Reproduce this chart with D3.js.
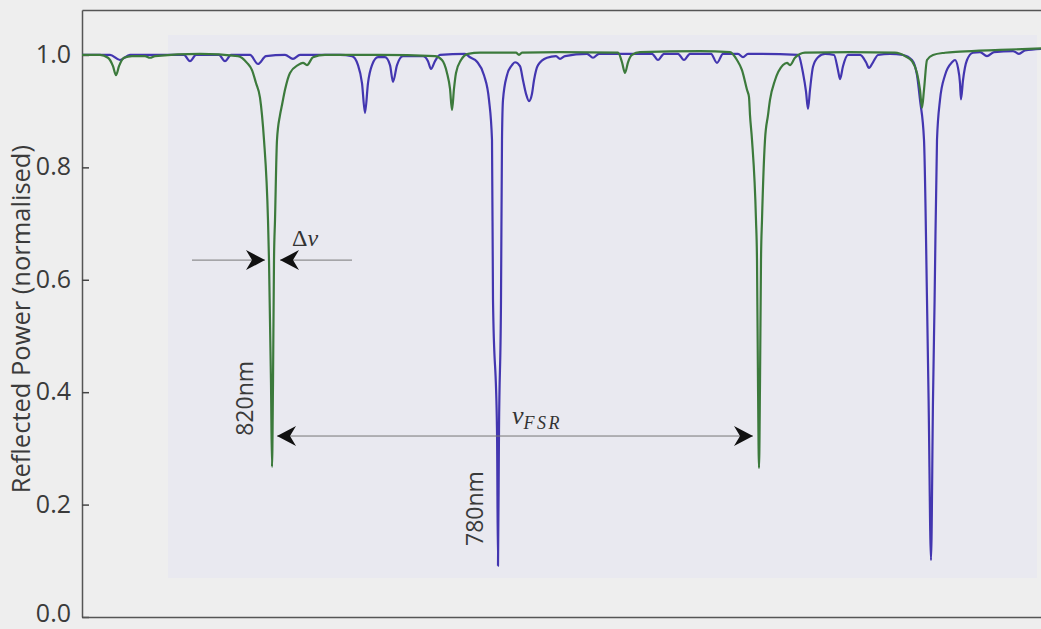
<!DOCTYPE html>
<html>
<head>
<meta charset="utf-8">
<script src="https://cdn.jsdelivr.net/npm/d3@7"></script>
<style>
  body { margin: 0; background: #eeeeee; }
  svg { display: block; }
  .axis path { stroke: #555; stroke-width: 1.5; }
  .axis line { stroke: #444; stroke-width: 1.5; }
  .axis text { font-family: "Open Sans", sans-serif; font-size: 25px; fill: #3a3a3a; }
  .label { font-family: "Open Sans", sans-serif; fill: #3a3a3a; }
  .math { font-family: "Liberation Serif", "DejaVu Serif", serif; fill: #333; }
</style>
</head>
<body>
<div class="graph"></div>
<script>
// relative frequency (arb. units) vs normalised reflected power
const trace780 = [
  [0.00, 1.000], [1.40, 1.000], [1.90, 0.991], [2.40, 1.000],
  [5.10, 1.000], [5.40, 0.989], [5.70, 1.000],
  [6.85, 1.000], [7.15, 0.989], [7.45, 1.000],
  [8.40, 1.000], [8.80, 0.984], [9.20, 0.998],
  [10.15, 1.000], [10.55, 0.993], [10.90, 1.000],
  [12.90, 1.000], [13.50, 0.998], [13.80, 0.982], [14.00, 0.950], [14.15, 0.897], [14.30, 0.950], [14.50, 0.982], [14.80, 0.996],
  [15.15, 0.996], [15.40, 0.982], [15.55, 0.952], [15.75, 0.982], [16.05, 0.998],
  [17.05, 0.998], [17.30, 0.989], [17.45, 0.975], [17.65, 0.989], [17.90, 1.000],
  [19.15, 1.002], [19.40, 0.996], [19.75, 0.988], [20.10, 0.964], [20.35, 0.920], [20.50, 0.849], [20.55, 0.564],
  [20.75, 0.333], [20.80, 0.091], [20.85, 0.333], [20.95, 0.564], [21.00, 0.849], [21.05, 0.920], [21.25, 0.964],
  [21.50, 0.982], [21.65, 0.987],
  [21.90, 0.980], [22.05, 0.955], [22.20, 0.931], [22.35, 0.918], [22.50, 0.931], [22.60, 0.955], [22.80, 0.982], [23.25, 0.995],
  [23.70, 0.998], [23.90, 0.993], [24.15, 0.998],
  [25.25, 1.002], [25.55, 0.995], [25.85, 1.002],
  [28.50, 1.002], [28.80, 0.991], [29.10, 1.002],
  [29.80, 1.002], [30.10, 0.991], [30.40, 1.002],
  [31.45, 1.002], [31.75, 0.986], [32.05, 1.002],
  [32.80, 1.002], [33.05, 0.996], [33.30, 1.002],
  [35.80, 1.000], [36.05, 0.968], [36.20, 0.935], [36.30, 0.904], [36.40, 0.938], [36.55, 0.979], [36.80, 0.996], [37.15, 1.002],
  [37.60, 1.000], [37.80, 0.973], [37.90, 0.957], [38.05, 0.980], [38.30, 1.000],
  [38.90, 1.000], [39.20, 0.987], [39.35, 0.977], [39.55, 0.987], [39.80, 1.000],
  [40.40, 1.002], [41.05, 1.000], [41.50, 0.991], [41.75, 0.964], [41.90, 0.920], [42.10, 0.849], [42.25, 0.564],
  [42.33, 0.386], [42.45, 0.101], [42.55, 0.386], [42.63, 0.564], [42.75, 0.849], [42.90, 0.920], [43.15, 0.964],
  [43.50, 0.987], [43.65, 0.991], [43.80, 0.977], [43.90, 0.950], [43.95, 0.921], [44.05, 0.955], [44.25, 0.991], [44.55, 1.004],
  [44.90, 1.005], [45.25, 0.998], [45.60, 1.005],
  [46.55, 1.007], [46.85, 1.002], [47.15, 1.008], [48.20, 1.011]
];

const trace820 = [
  [0.00, 1.000], [0.90, 1.000], [1.30, 0.995], [1.55, 0.980], [1.70, 0.964], [1.85, 0.980], [2.10, 0.995], [2.50, 0.998],
  [3.15, 0.998], [3.40, 0.995], [3.65, 0.998],
  [5.90, 1.002], [7.80, 0.998], [8.25, 0.986], [8.50, 0.973], [8.70, 0.950], [8.90, 0.924], [9.00, 0.893], [9.10, 0.849],
  [9.30, 0.706], [9.35, 0.635], [9.45, 0.416], [9.50, 0.267], [9.55, 0.416], [9.60, 0.635], [9.65, 0.706], [9.75, 0.849],
  [9.90, 0.893], [10.00, 0.911], [10.15, 0.938], [10.40, 0.968], [10.80, 0.982], [11.05, 0.986], [11.25, 0.982], [11.55, 0.996], [12.15, 1.000],
  [14.90, 1.000], [17.65, 0.998], [18.00, 0.991], [18.25, 0.968], [18.40, 0.940], [18.50, 0.902], [18.60, 0.940], [18.70, 0.968], [18.95, 0.991], [19.30, 1.002],
  [19.90, 1.004], [21.70, 1.004], [21.85, 1.000], [22.00, 1.004],
  [23.90, 1.005], [26.80, 1.004], [27.00, 0.987], [27.15, 0.968], [27.30, 0.987], [27.50, 1.000], [27.90, 1.005],
  [30.90, 1.007], [32.40, 1.005], [32.75, 0.991], [33.00, 0.973], [33.25, 0.938], [33.35, 0.925], [33.40, 0.893], [33.50, 0.849],
  [33.70, 0.706], [33.75, 0.635], [33.80, 0.416], [33.85, 0.265], [33.90, 0.416], [33.95, 0.635], [34.00, 0.706], [34.15, 0.849],
  [34.30, 0.893], [34.40, 0.920], [34.65, 0.955], [35.05, 0.982], [35.25, 0.986], [35.40, 0.982], [35.65, 0.995], [36.15, 1.004],
  [38.40, 1.005], [40.65, 1.004], [41.15, 0.998], [41.50, 0.989], [41.75, 0.968], [41.90, 0.938], [42.00, 0.906], [42.10, 0.938],
  [42.25, 0.991], [42.55, 1.000], [43.15, 1.004],
  [43.90, 1.006], [45.90, 1.009], [48.20, 1.012]
];

const yTicks = [0, 0.2, 0.4, 0.6, 0.8, 1.0];
const seriesNames = ["780nm", "820nm"];
const seriesColors = ["#4336b0", "#3c7a3c"];

// annotations (data units)
const linewidthLevel = 0.635;
const linewidthTails = [5.5, 13.5];
const linewidthTips = [9.15, 9.9];
const fsrLevel = 0.322;
const fsrTips = [9.75, 33.55];

const width = 1041;
const height = 629;
const margin = { top: 10, right: -5, bottom: 12, left: 82 };

const svg = d3.select(".graph")
  .append("svg")
  .attr("width", width)
  .attr("height", height);

// scan tint
svg.append("rect").attr("width", width).attr("height", height).attr("fill", "#eeeeee");
svg.append("rect")
  .attr("x", 168).attr("y", 35)
  .attr("width", 869).attr("height", 543)
  .attr("fill", "#e9e9f0");

const xScale = d3.scaleLinear()
  .domain([0, 48.2])
  .range([margin.left, width - margin.right]);

const yScale = d3.scaleLinear()
  .domain([0, 1.08])
  .range([height - margin.bottom, margin.top]);

//Axes / frame
const yAxisGroup = svg.append("g")
  .attr("class", "axis")
  .attr("transform", `translate(${margin.left}, 0)`)
  .call(d3.axisLeft(yScale)
    .tickValues(yTicks)
    .tickFormat(d3.format(".1f"))
    .tickSize(-7)
    .tickSizeOuter(0)
    .tickPadding(11));
yAxisGroup.selectAll(".tick text").attr("dy", d => d === 0 ? "0.16em" : "0.3em");

svg.append("g")
  .attr("class", "axis")
  .attr("transform", `translate(0, ${yScale(0)})`)
  .call(d3.axisBottom(xScale).tickValues([]).tickSizeOuter(0));

svg.append("g")
  .attr("class", "axis")
  .attr("transform", `translate(0, ${yScale(1.08)})`)
  .call(d3.axisTop(xScale).tickValues([]).tickSizeOuter(0));

svg.append("text")
  .attr("class", "label")
  .attr("transform", `translate(30, ${(yScale(0.22) + yScale(0.84)) / 2}) rotate(-90)`)
  .attr("text-anchor", "middle")
  .attr("font-size", 25.5)
  .text("Reflected Power (normalised)");

//Traces
const line = d3.line()
  .x(d => xScale(d[0]))
  .y(d => yScale(d[1]))
  .curve(d3.curveMonotoneX);

[trace780, trace820].forEach((trace, i) => {
  svg.append("path")
    .datum(trace)
    .attr("fill", "none")
    .attr("stroke", seriesColors[i])
    .attr("stroke-width", 2.2)
    .attr("stroke-linejoin", "round")
    .attr("d", line);
});

//Arrow marker
svg.append("defs")
  .append("marker")
  .attr("id", "head")
  .attr("viewBox", "-21 -11 22 22")
  .attr("refX", 0)
  .attr("refY", 0)
  .attr("markerWidth", 22)
  .attr("markerHeight", 22)
  .attr("markerUnits", "userSpaceOnUse")
  .attr("orient", "auto-start-reverse")
  .append("path")
  .attr("d", "M0,0 L-19,-10 L-13,0 L-19,10 Z")
  .attr("fill", "#111");

linewidthTails.forEach((tail, i) => {
  svg.append("line")
    .attr("x1", xScale(tail)).attr("x2", xScale(linewidthTips[i]))
    .attr("y1", yScale(linewidthLevel)).attr("y2", yScale(linewidthLevel))
    .attr("stroke", "#777")
    .attr("stroke-width", 1)
    .attr("marker-end", "url(#head)");
});

svg.append("line")
  .attr("x1", xScale(fsrTips[0])).attr("x2", xScale(fsrTips[1]))
  .attr("y1", yScale(fsrLevel)).attr("y2", yScale(fsrLevel))
  .attr("stroke", "#777")
  .attr("stroke-width", 1)
  .attr("marker-start", "url(#head)")
  .attr("marker-end", "url(#head)");

//Math labels
const dnu = svg.append("text")
  .attr("class", "math")
  .attr("x", xScale(10.5))
  .attr("y", yScale(0.66))
  .attr("font-size", 24);
dnu.append("tspan").text("Δ");
dnu.append("tspan").attr("font-style", "italic").text("ν");

const fsr = svg.append("text")
  .attr("class", "math")
  .attr("x", xScale(21.5))
  .attr("y", yScale(0.344))
  .attr("font-size", 26)
  .attr("font-style", "italic");
fsr.append("tspan").text("ν");
fsr.append("tspan")
  .attr("dy", 5)
  .attr("font-size", 18)
  .attr("letter-spacing", 2.5)
  .text("FSR");

//Wavelength labels
const wlLabels = [
  { name: seriesNames[1], x: 8.55, y: 0.389 },
  { name: seriesNames[0], x: 20.05, y: 0.193 }
];
wlLabels.forEach(d => {
  svg.append("text")
    .attr("class", "label")
    .attr("transform", `translate(${xScale(d.x)}, ${yScale(d.y)}) rotate(-90)`)
    .attr("text-anchor", "middle")
    .attr("font-size", 23)
    .text(d.name);
});
</script>
</body>
</html>
